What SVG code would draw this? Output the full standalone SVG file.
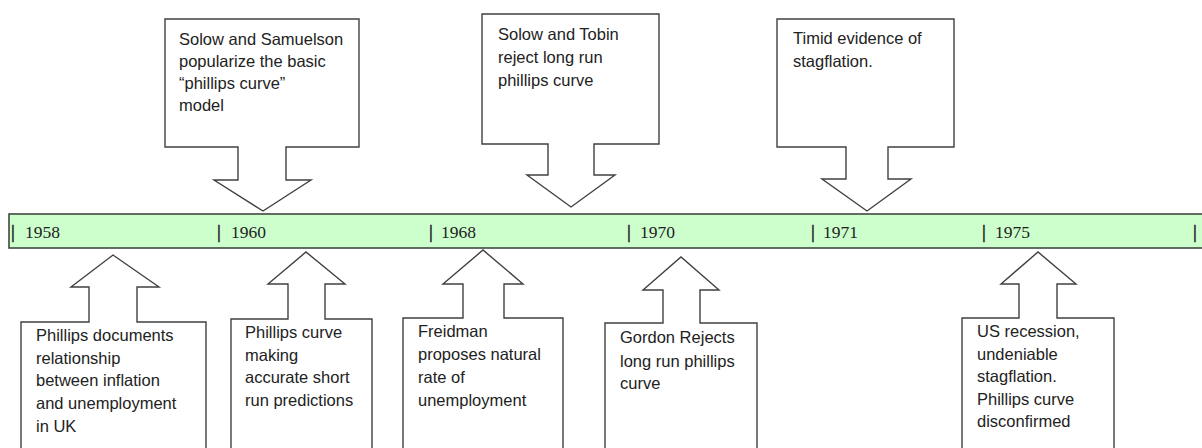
<svg xmlns="http://www.w3.org/2000/svg" width="1202" height="448" viewBox="0 0 1202 448">
<style>
.bg{fill:#ffffff}
.bar{fill:#ccffcc;stroke:#3f4a3f;stroke-width:1.6}
.call{fill:#ffffff;stroke:#404040;stroke-width:1.4;stroke-linejoin:miter}
.t{font-family:"Liberation Sans",Arial,sans-serif;font-size:16.5px;fill:#222222}
.yr{font-family:"Liberation Serif","Times New Roman",serif;font-size:17.5px;fill:#222222}
.tk{font-family:"Liberation Serif","Times New Roman",serif;font-size:19px;fill:#222222;stroke:#222222;stroke-width:0.5}
</style>
<rect class="bg" x="0" y="0" width="1202" height="448"/>
<g id="timeline">
<rect class="bar" x="9" y="214" width="1200" height="34"/>
<text class="tk" x="11" y="238">|</text><text class="yr" x="25" y="238">1958</text>
<text class="tk" x="217" y="238">|</text><text class="yr" x="231" y="238">1960</text>
<text class="tk" x="429" y="238">|</text><text class="yr" x="441" y="238">1968</text>
<text class="tk" x="627" y="238">|</text><text class="yr" x="640" y="238">1970</text>
<text class="tk" x="811" y="238">|</text><text class="yr" x="823" y="238">1971</text>
<text class="tk" x="982" y="238">|</text><text class="yr" x="995" y="238">1975</text>
<text class="tk" x="1193" y="238">|</text>
</g>
<g id="connectors"></g>
<g id="n1960top">
<path class="call" d="M165,19 H359 V147 H286 V180 H311 L263,211 L214,180 H238 V147 H165 Z"/>
<text class="t" x="179" y="45">Solow and Samuelson</text>
<text class="t" x="179" y="67">popularize the basic</text>
<text class="t" x="179" y="89">“phillips curve”</text>
<text class="t" x="179" y="111">model</text>
</g>
<g id="n1968top">
<path class="call" d="M482,14 H659 V144 H594 V175 H615 L571,207 L527,175 H548 V144 H482 Z"/>
<text class="t" x="498" y="40">Solow and Tobin</text>
<text class="t" x="498" y="63">reject long run</text>
<text class="t" x="498" y="86">phillips curve</text>
</g>
<g id="n1971top">
<path class="call" d="M777,19 H954 V147 H888 V179 H911 L867,211 L822,179 H846 V147 H777 Z"/>
<text class="t" x="793" y="44">Timid evidence of</text>
<text class="t" x="793" y="67">stagflation.</text>
</g>
<g id="n1958">
<path class="call" d="M21,460 V322 H89 V287 H71 L113,255 L159,287 H137 V322 H206 V460"/>
<text class="t" x="36" y="341">Phillips documents</text>
<text class="t" x="36" y="364">relationship</text>
<text class="t" x="36" y="386">between inflation</text>
<text class="t" x="36" y="409">and unemployment</text>
<text class="t" x="36" y="432">in UK</text>
</g>
<g id="n1960">
<path class="call" d="M231,460 V319 H288 V284 H268 L306,252 L345,284 H325 V319 H372 V460"/>
<text class="t" x="245" y="338">Phillips curve</text>
<text class="t" x="245" y="361">making</text>
<text class="t" x="245" y="383">accurate short</text>
<text class="t" x="245" y="406">run predictions</text>
</g>
<g id="n1968">
<path class="call" d="M403,460 V318 H463 V284 H443 L483,250 L523,284 H504 V318 H563 V460"/>
<text class="t" x="418" y="337">Freidman</text>
<text class="t" x="418" y="360">proposes natural</text>
<text class="t" x="418" y="383">rate of</text>
<text class="t" x="418" y="406">unemployment</text>
</g>
<g id="n1970">
<path class="call" d="M605,460 V323 H663 V290 H643 L681,257 L719,290 H700 V323 H757 V460"/>
<text class="t" x="620" y="343">Gordon Rejects</text>
<text class="t" x="620" y="367">long run phillips</text>
<text class="t" x="620" y="389">curve</text>
</g>
<g id="n1975">
<path class="call" d="M962,460 V318 H1019 V284 H1001 L1038,252 L1076,284 H1057 V318 H1114 V460"/>
<text class="t" x="977" y="337">US recession,</text>
<text class="t" x="977" y="360">undeniable</text>
<text class="t" x="977" y="382">stagflation.</text>
<text class="t" x="977" y="405">Phillips curve</text>
<text class="t" x="977" y="427">disconfirmed</text>
</g>
</svg>
